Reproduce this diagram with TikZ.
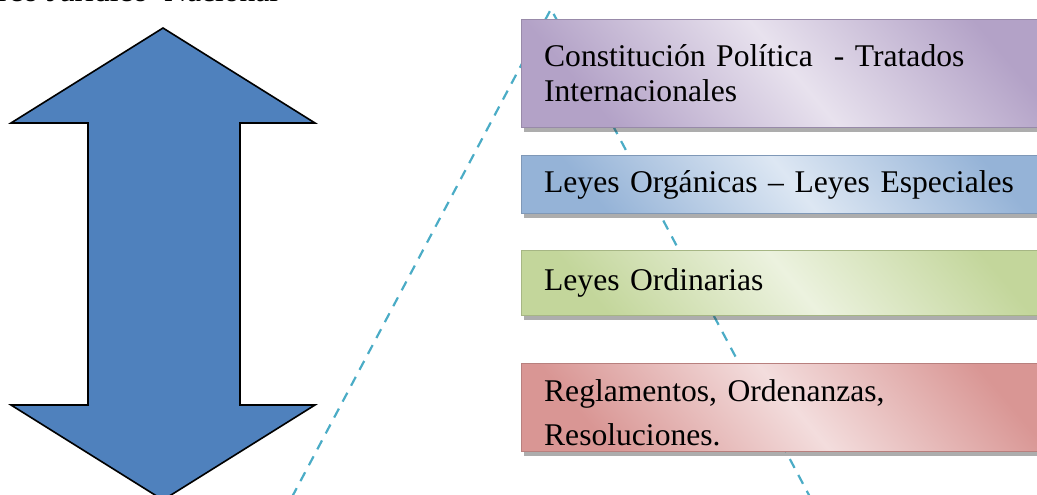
\documentclass[tikz,border=0pt]{standalone}
\usepackage{fontspec}
\setmainfont{Liberation Serif}
\usetikzlibrary{shadows}
\definecolor{arrowblue}{HTML}{4F81BD}
\definecolor{dashblue}{HTML}{4BACC6}
\definecolor{purD}{HTML}{B3A2C7}
\definecolor{purL}{HTML}{E8E2EE}
\definecolor{bluD}{HTML}{95B3D7}
\definecolor{bluL}{HTML}{DDE7F3}
\definecolor{grnD}{HTML}{C3D69B}
\definecolor{grnL}{HTML}{ECF2DF}
\definecolor{redD}{HTML}{D99694}
\definecolor{redL}{HTML}{F3DDDD}
\tikzset{
  levelbox/.style n args={2}{draw=#1!85!black, line width=1.3pt,
    top color=#1, bottom color=#1, middle color=#2, shading angle=-50,
    minimum width=545pt, text width=500pt, align=left, inner xsep=21pt,
    anchor=north west, inner ysep=0pt,
    drop shadow={shadow xshift=2pt, shadow yshift=-4.5pt, opacity=0.4, fill=black!80},
    font=\fontsize{31.6}{35}\selectfont},
  pyramid/.style={draw=dashblue, line width=2.2pt, dash pattern=on 10pt off 8pt},
  bigarrow/.style={fill=arrowblue, draw=black, line width=1.6pt, line join=miter}
}
\begin{document}
\begin{tikzpicture}[x=1pt,y=-1pt]
\clip (0,0) rectangle (1037,495);
\useasboundingbox (0,0) rectangle (1037,495);
\node[anchor=base west, inner sep=0pt, font=\fontsize{31.6}{35}\selectfont] (title) at (-44,2) {Marco Jurídico\ \ Nacional};
\path[bigarrow] (163,28) -- (315,123) -- (240,123) -- (240,405) -- (315,405)
  -- (163,500) -- (11,405) -- (88,405) -- (88,123) -- (11,123) -- cycle;
\coordinate (apex) at (551,9);
\coordinate (bl) at (292,497);
\coordinate (br) at (810,497);
\draw[pyramid] (bl) -- (apex) -- (br);
\node[levelbox={purD}{purL}, minimum height=108pt] (b1) at (521,19)
  {Constitución Política\ \ - Tratados\\Internacionales};
\node[levelbox={bluD}{bluL}, minimum height=58pt] (b2) at (521,155)
  {Leyes Orgánicas – Leyes Especiales};
\node[levelbox={grnD}{grnL}, minimum height=65pt] (b3) at (521,250)
  {Leyes Ordinarias};
\node[levelbox={redD}{redL}, minimum height=88pt] (b4) at (521,363)
  {Reglamentos, Ordenanzas,\\\raisebox{-9pt}[0pt][0pt]{Resoluciones.}};
\end{tikzpicture}
\end{document}
